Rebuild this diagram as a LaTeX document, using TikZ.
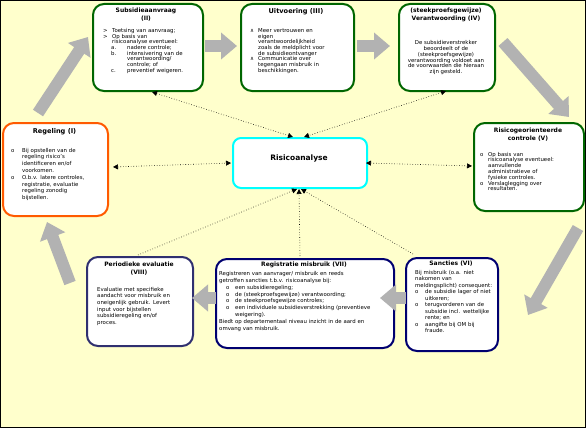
\documentclass[tikz,border=0pt]{standalone}
\usepackage{fontspec}
\setmainfont{DejaVu Sans}
\usetikzlibrary{arrows.meta}
\definecolor{bgy}{HTML}{FFFFCC}
\definecolor{grn}{HTML}{006600}
\definecolor{orng}{HTML}{FF5A00}
\definecolor{navy}{HTML}{000070}
\definecolor{navyg}{HTML}{303070}
\definecolor{cyn}{HTML}{00FFFF}
\definecolor{agray}{HTML}{B2B2B2}
\newcommand\bitm[3]{\par\noindent\hangindent=#2\hangafter=1\hbox to #2{#1\hfil}#3\par}
\tikzset{
 box/.style={rectangle, rounded corners=11pt, line width=2pt, fill=white, inner sep=0pt, anchor=north west},
 body/.style={anchor=north west, inner sep=0pt, text width=#1},
 bfont/.style={font=\fontsize{5.4}{#1}\selectfont},
 ttl/.style={anchor=north, inner sep=0pt, align=center, font=\fontsize{6}{7.4}\selectfont\bfseries},
 garrow/.style={line width=12pt, draw=agray, -{Triangle[length=16pt,width=26pt]}},
 darrow/.style={dotted, line width=0.6pt, {Triangle[length=5pt,width=5pt]}-{Triangle[length=5pt,width=5pt]}},
 sarrow/.style={dotted, line width=0.6pt, -{Triangle[length=5pt,width=5pt]}},
}
\begin{document}
\begin{tikzpicture}[x=1pt,y=-1pt]
\useasboundingbox (0,0) rectangle (586,428);
\fill[bgy] (0,0) rectangle (586,428);
\draw[line width=1pt] (0.5,0.5) rectangle (585.5,427.5);

% boxes
\node[box, draw=orng, minimum width=105pt, minimum height=93pt] (b1) at (2,122) {};
\node[box, draw=grn, minimum width=110pt, minimum height=87pt] (b2) at (92,3) {};
\node[box, draw=grn, minimum width=113pt, minimum height=87pt] (b3) at (240,3) {};
\node[box, draw=grn, minimum width=96pt, minimum height=87pt] (b4) at (398,3) {};
\node[box, draw=grn, minimum width=110pt, minimum height=88pt] (b5) at (473,122) {};
\node[box, draw=navy, minimum width=92pt, minimum height=93pt] (b6) at (405,257) {};
\node[box, draw=navy, minimum width=178pt, minimum height=89pt] (b7) at (215,258) {};
\node[box, draw=navyg, minimum width=106pt, minimum height=89pt] (b8) at (86,256) {};
\node[box, draw=cyn, rounded corners=8pt, minimum width=134pt, minimum height=50pt] (risk) at (232,137) {};

% gray process arrows
\coordinate (g1a) at (38,113); \coordinate (g1b) at (88,37);
\coordinate (g2a) at (205,46); \coordinate (g2b) at (237,46);
\coordinate (g3a) at (357,46); \coordinate (g3b) at (390,46);
\coordinate (g4a) at (503,42); \coordinate (g4b) at (569,117);
\coordinate (g5a) at (578,228); \coordinate (g5b) at (528,315);
\coordinate (g6a) at (406,298); \coordinate (g6b) at (380,298);
\coordinate (g7a) at (216,298); \coordinate (g7b) at (192,298);
\coordinate (g8a) at (70,283); \coordinate (g8b) at (47,222);
\draw[garrow] (g1a) -- (g1b);
\draw[garrow] (g2a) -- (g2b);
\draw[garrow] (g3a) -- (g3b);
\draw[garrow] (g4a) -- (g4b);
\draw[garrow] (g5a) -- (g5b);
\draw[garrow] (g6a) -- (g6b);
\draw[garrow] (g7a) -- (g7b);
\draw[garrow] (g8a) -- (g8b);

% dotted links with Risicoanalyse
\coordinate (d1a) at (152,92); \coordinate (d1b) at (293,137);
\coordinate (d2a) at (446,91); \coordinate (d2b) at (304,137);
\coordinate (d3a) at (113,167); \coordinate (d3b) at (231,163);
\coordinate (d4a) at (366,163); \coordinate (d4b) at (472,166);
\coordinate (d5a) at (138,255); \coordinate (d6a) at (300,256); \coordinate (d7a) at (413,254);
\coordinate (d5b) at (297,189); \coordinate (d6b) at (299,189); \coordinate (d7b) at (301,189);
\draw[darrow] (d1a) -- (d1b);
\draw[darrow] (d2a) -- (d2b);
\draw[darrow] (d3a) -- (d3b);
\draw[darrow] (d4a) -- (d4b);
\draw[sarrow] (d5a) -- (d5b);
\draw[sarrow] (d6a) -- (d6b);
\draw[sarrow] (d7a) -- (d7b);

% Risicoanalyse
\node[font=\fontsize{7.5}{9}\selectfont\bfseries, inner sep=0pt] (rt) at (299,158) {Risicoanalyse};

% I
\node[ttl, font=\fontsize{6.6}{8}\selectfont\bfseries] (t1) at (54.5,128) {Regeling (I)};
\node[body=96pt, bfont=6.8] (x1) at (11,145) {%
\bitm{o}{11pt}{Bij opstellen van de\newline regeling risico's\newline identificeren en/of\newline voorkomen.}
\bitm{o}{11pt}{O.b.v. latere controles,\newline registratie, evaluatie\newline regeling zonodig\newline bijstellen.}};

% II
\node[ttl] (t2) at (146,8) {Subsidieaanvraag\\(II)};
\node[body=96pt, bfont=5.6] (x2) at (103,27) {%
\bitm{>}{9pt}{Toetsing van aanvraag;}
\bitm{>}{9pt}{Op basis van\newline risicoanalyse eventueel:}
\bitm{\hspace*{8pt}a.}{24pt}{nadere controle;}
\bitm{\hspace*{8pt}b.}{24pt}{intensivering van de\newline verantwoording/\newline controle; of}
\bitm{\hspace*{8pt}c.}{24pt}{preventief weigeren.}};

% III
\node[ttl, font=\fontsize{6.6}{8}\selectfont\bfseries] (t3) at (296,8) {Uitvoering (III)};
\node[body=100pt, bfont=5.6] (x3) at (250,27) {%
\bitm{∧}{8pt}{Meer vertrouwen en\newline eigen\newline verantwoordelijkheid\newline zoals de meldplicht voor\newline de subsidieontvanger}
\bitm{∧}{8pt}{Communicatie over\newline tegengaan misbruik in\newline beschikkingen.}};

% IV
\node[ttl] (t4) at (446,8) {(steekproefsgewijze)\\Verantwoording (IV)};
\node[anchor=north, inner sep=0pt, align=center, bfont=5.9] (x4) at (446,40) {De subsidieverstrekker\\beoordeelt of de\\(steekproefsgewijze)\\verantwoording voldoet aan\\de voorwaarden die hieraan\\zijn gesteld.};

% V
\node[ttl] (t5) at (528,128) {Risicogeorienteerde\\controle (V)};
\node[body=95pt, bfont=5.8] (x5) at (480,150) {%
\bitm{o}{8pt}{Op basis van\newline risicoanalyse eventueel:\newline aanvullende\newline administratieve of\newline fysieke controles.}
\bitm{o}{8pt}{Verslaglegging over\newline resultaten.}};

% VI
\node[ttl] (t6) at (451,261) {Sancties (VI)};
\node[body=90pt, bfont=6.5] (x6) at (415,270) {%
\noindent Bij misbruik (o.a. niet\newline nakomen van\newline meldingsplicht) consequent:\par
\bitm{o}{10pt}{de subsidie lager of niet\newline uitkeren;}
\bitm{o}{10pt}{terugvorderen van de\newline subsidie incl. wettelijke\newline rente; en}
\bitm{o}{10pt}{aangifte bij OM bij\newline fraude.}};

% VII
\node[ttl] (t7) at (304,262) {Registratie misbruik (VII)};
\node[body=172pt, bfont=6.9] (x7) at (219,271) {%
\noindent Registreren van aanvrager/ misbruik en reeds\newline getroffen sancties t.b.v. risicoanalyse bij:\par
\bitm{\hspace*{7pt}o}{16pt}{een subsidieregeling;}
\bitm{\hspace*{7pt}o}{16pt}{de (steekproefsgewijze) verantwoording;}
\bitm{\hspace*{7pt}o}{16pt}{de steekproefsgewijze controles;}
\bitm{\hspace*{7pt}o}{16pt}{een individuele subsidieverstrekking (preventieve\newline weigering).}
\noindent Biedt op departementaal niveau inzicht in de aard en\newline omvang van misbruik.};

% VIII
\node[ttl] (t8) at (139,262) {Periodieke evaluatie\\(VIII)};
\node[body=95pt, bfont=6.6] (x8) at (97,287) {%
\noindent Evaluatie met specifieke\newline aandacht voor misbruik en\newline oneigenlijk gebruik. Levert\newline input voor bijstellen\newline subsidieregeling en/of\newline proces.};
\end{tikzpicture}
\end{document}
